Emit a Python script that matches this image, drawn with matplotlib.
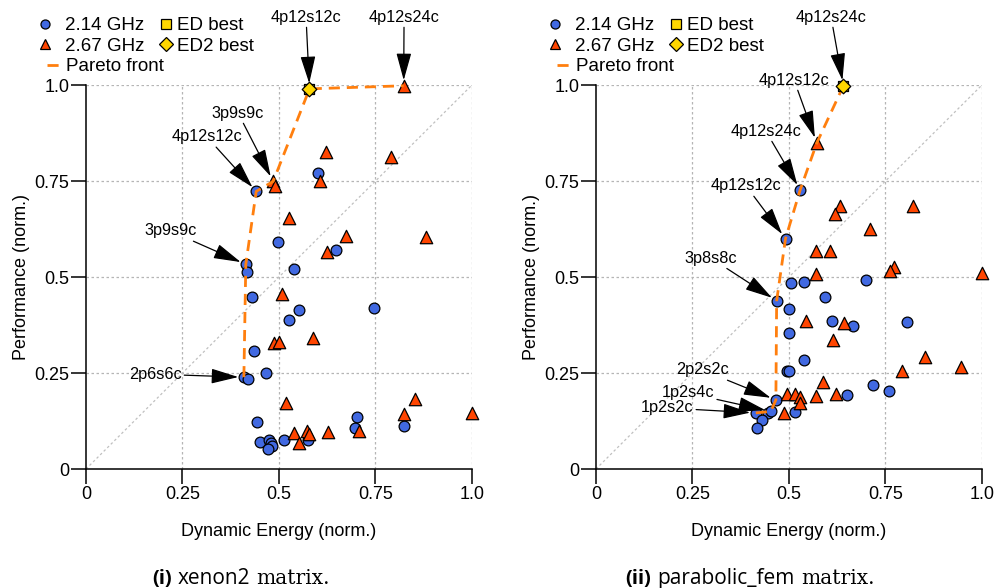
import matplotlib
matplotlib.use("Agg")
import matplotlib.pyplot as plt
from matplotlib.lines import Line2D

plt.rcParams["font.family"] = ["Liberation Sans", "DejaVu Sans"]

# ---- (i) xenon2 ----
xen_blue_x = [0.409, 0.419, 0.414, 0.417, 0.441, 0.602, 0.497, 0.648, 0.538, 0.429,
              0.553, 0.526, 0.745, 0.434, 0.467, 0.444, 0.702, 0.697, 0.823, 0.575,
              0.514, 0.451, 0.475, 0.478, 0.483, 0.471]
xen_blue_y = [0.239, 0.235, 0.533, 0.512, 0.723, 0.771, 0.591, 0.570, 0.520, 0.447,
              0.414, 0.389, 0.420, 0.306, 0.249, 0.123, 0.135, 0.108, 0.111, 0.076,
              0.076, 0.071, 0.076, 0.067, 0.060, 0.051]
xen_red_x = [0.485, 0.490, 0.605, 0.622, 0.791, 0.823, 0.525, 0.673, 0.625, 0.882,
             0.507, 0.587, 0.486, 0.501, 0.518, 0.853, 0.823, 1.000, 0.706, 0.626,
             0.573, 0.577, 0.540, 0.552]
xen_red_y = [0.749, 0.736, 0.749, 0.825, 0.812, 0.998, 0.654, 0.606, 0.565, 0.604,
             0.455, 0.341, 0.329, 0.330, 0.171, 0.181, 0.142, 0.146, 0.099, 0.097,
             0.100, 0.091, 0.095, 0.069]
xen_front_x = [0.409, 0.414, 0.441, 0.485, 0.579, 0.823]
xen_front_y = [0.239, 0.533, 0.723, 0.749, 0.990, 0.998]
xen_front_labels = ["2p6s6c", "3p9s9c", "4p12s12c", "3p9s9c", "4p12s12c", "4p12s24c"]
xen_best = (0.579, 0.990)

# ---- (ii) parabolic_fem ----
fem_blue_x = [0.414, 0.445, 0.453, 0.431, 0.418, 0.466, 0.468, 0.491, 0.529, 0.505,
              0.539, 0.700, 0.593, 0.499, 0.612, 0.666, 0.806, 0.500, 0.538, 0.495,
              0.499, 0.717, 0.760, 0.651, 0.516]
fem_blue_y = [0.146, 0.145, 0.150, 0.128, 0.108, 0.180, 0.438, 0.600, 0.727, 0.485,
              0.487, 0.492, 0.447, 0.416, 0.386, 0.372, 0.383, 0.355, 0.285, 0.255,
              0.255, 0.220, 0.202, 0.194, 0.148]
fem_red_x = [0.572, 0.633, 0.618, 0.820, 0.709, 0.571, 0.606, 0.772, 0.761, 0.571,
             1.000, 0.543, 0.643, 0.613, 0.852, 0.945, 0.794, 0.587, 0.623, 0.570,
             0.494, 0.516, 0.528, 0.528, 0.488]
fem_red_y = [0.849, 0.684, 0.665, 0.686, 0.625, 0.567, 0.568, 0.526, 0.516, 0.507,
             0.510, 0.386, 0.380, 0.335, 0.292, 0.265, 0.255, 0.226, 0.195, 0.189,
             0.195, 0.195, 0.188, 0.171, 0.147]
fem_front_x = [0.414, 0.453, 0.466, 0.468, 0.491, 0.529, 0.572, 0.641]
fem_front_y = [0.146, 0.150, 0.180, 0.438, 0.600, 0.727, 0.849, 0.998]
fem_front_labels = ["1p2s2c", "1p2s4c", "2p2s2c", "3p8s8c", "4p12s12c", "4p12s24c",
                    "4p12s12c", "4p12s24c"]
fem_best = (0.641, 0.998)

ticks = [0, 0.25, 0.5, 0.75, 1.0]
tick_labels = ["0", "0.25", "0.5", "0.75", "1.0"]

# label text placement (data coords, outside plot allowed)
xen_text_pos = [(0.179, 0.247), (0.218, 0.620), (0.313, 0.865), (0.394, 0.927),
                (0.570, 1.177), (0.824, 1.177)]
fem_text_pos = [(0.184, 0.159), (0.238, 0.198), (0.275, 0.258), (0.298, 0.549),
                (0.389, 0.737), (0.440, 0.880), (0.513, 1.013), (0.609, 1.177)]

BLUE = "#4169e1"
RED = "#ff4500"
GOLD = "#ffd700"
ORANGE = "#ff7f0e"

W, H = 995, 588
fig = plt.figure(figsize=(W / 100, H / 100), dpi=100)


def small_legend(handles, names, x_px, y_px, hl, pad):
    fig.legend(handles, names, loc="upper left",
               bbox_to_anchor=(x_px / W, 1 - y_px / H), frameon=False,
               fontsize=13.5, handlelength=hl, handletextpad=pad,
               labelspacing=0.2, borderpad=0, borderaxespad=0)


def draw_panel(left_px, bx, by, rx, ry, fx, fy, flabels, tpos, best):
    ax = fig.add_axes([left_px / W, (H - 469) / H, 386 / W, 384 / H])
    ax.set_xlim(0, 1)
    ax.set_ylim(0, 1)

    for v in ticks[1:]:
        ax.axvline(v, color="#b5b5b5", ls=(0, (2, 2)), lw=0.9, zorder=0)
        ax.axhline(v, color="#b5b5b5", ls=(0, (2, 2)), lw=0.9, zorder=0)
    ax.plot([0, 1], [0, 1], color="#c0c0c0", ls=(0, (2, 2)), lw=0.9, zorder=0)

    ax.scatter(bx, by, s=60, c=BLUE, edgecolors="black", linewidths=0.9,
               zorder=3, clip_on=False)
    ax.scatter(rx, ry, s=80, marker="^", c=RED, edgecolors="black",
               linewidths=0.9, zorder=3, clip_on=False)
    ax.plot(fx, fy, color=ORANGE, lw=2, dashes=(4, 2.5), zorder=4, clip_on=False)
    ax.scatter([best[0]], [best[1]], s=50, marker="s", c=GOLD, edgecolors="black",
               linewidths=0.9, zorder=5, clip_on=False)
    ax.scatter([best[0]], [best[1]], s=55, marker="D", c=GOLD, edgecolors="black",
               linewidths=0.9, zorder=6, clip_on=False)

    for lbl, x, y, p in zip(flabels, fx, fy, tpos):
        ax.annotate(lbl, xy=(x, y), xytext=p, textcoords="data", ha="center",
                    va="center", fontsize=11.7, annotation_clip=False,
                    arrowprops=dict(arrowstyle="-|>,head_length=1.45,head_width=0.4",
                                    color="black", lw=0.9, shrinkA=0, shrinkB=4))

    ax.spines["top"].set_visible(False)
    ax.spines["right"].set_visible(False)
    for s in ["left", "bottom"]:
        ax.spines[s].set_linewidth(1.1)
    ax.set_xticks(ticks)
    ax.set_xticklabels(tick_labels)
    ax.set_yticks(ticks)
    ax.set_yticklabels(tick_labels)
    ax.tick_params(length=10.5, width=1.1, pad=1.5, labelsize=13)

    cx = left_px + 193
    fig.text(cx / W, 1 - 532 / H, "Dynamic Energy (norm.)", ha="center",
             va="center", fontsize=13)
    fig.text((left_px - 64) / W, 1 - 277 / H, "Performance (norm.)", ha="center",
             va="center", rotation=90, fontsize=13)

    # legend: two marker columns and the Pareto row, placed separately
    h_blue = Line2D([], [], ls="none", marker="o", ms=6.5, mfc=BLUE, mec="black", mew=0.9)
    h_red = Line2D([], [], ls="none", marker="^", ms=7.5, mfc=RED, mec="black", mew=0.9)
    h_sq = Line2D([], [], ls="none", marker="s", ms=7, mfc=GOLD, mec="black", mew=0.9)
    h_dia = Line2D([], [], ls="none", marker="D", ms=7, mfc=GOLD, mec="black", mew=0.9)
    h_front = Line2D([], [], color=ORANGE, lw=2, dashes=(4, 2.5))
    small_legend([h_blue, h_red], ["2.14 GHz", "2.67 GHz"], left_px - 50, 17, 1.0, 0.57)
    small_legend([h_sq, h_dia], ["ED best", "ED2 best"], left_px + 72.5, 17, 0.8, 0.19)
    small_legend([h_front], ["Pareto front"], left_px - 39, 58, 0.96, 0.06)
    return ax


draw_panel(86, xen_blue_x, xen_blue_y, xen_red_x, xen_red_y, xen_front_x,
           xen_front_y, xen_front_labels, xen_text_pos, xen_best)
draw_panel(596, fem_blue_x, fem_blue_y, fem_red_x, fem_red_y, fem_front_x,
           fem_front_y, fem_front_labels, fem_text_pos, fem_best)

# captions built from three pieces with different faces
renderer = fig.canvas.get_renderer()


def caption(center_px, parts):
    items = []
    for s, kw in parts:
        t = fig.text(0, 1 - 584 / H, s, va="baseline", **kw)
        items.append(t)
    widths = [t.get_window_extent(renderer).width for t in items]
    gap = 6
    total = sum(widths) + gap * (len(items) - 1)
    x = center_px - total / 2
    for t, w in zip(items, widths):
        t.set_x(x / W)
        x += w + gap


caption(241, [("(i)", dict(family="Open Sans", weight="bold", fontsize=14.5)),
              ("xenon2", dict(family="Open Sans", fontsize=15)),
              ("matrix.", dict(family="DejaVu Serif", fontsize=14.5))])
caption(750, [("(ii)", dict(family="Open Sans", weight="bold", fontsize=14.5)),
              ("parabolic_fem", dict(family="Open Sans", fontsize=15)),
              ("matrix.", dict(family="DejaVu Serif", fontsize=14.5))])

fig.savefig("out.png", dpi=100)
